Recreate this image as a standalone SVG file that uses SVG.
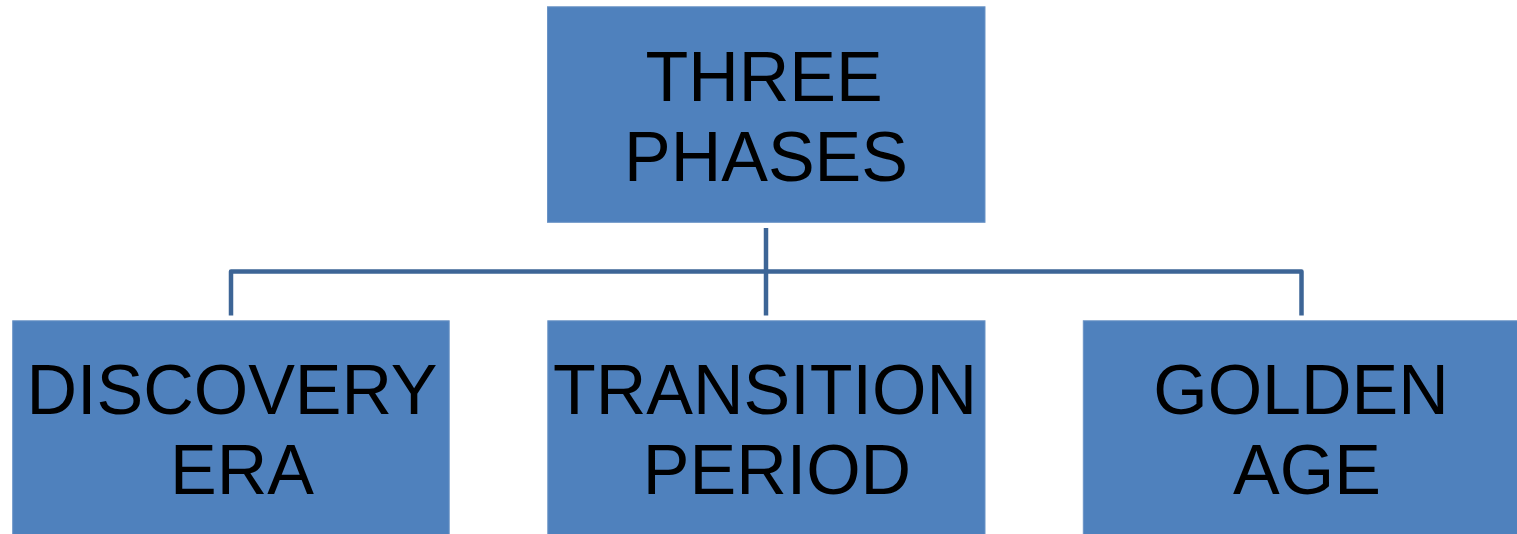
<svg xmlns="http://www.w3.org/2000/svg" width="1517" height="534" viewBox="0 0 1517 534">
<style>
.box{fill:#4F81BD;stroke:#6A93C6;stroke-width:1}
.lbl{font-family:"Liberation Sans",Arial,sans-serif;font-size:70px;fill:#000;text-anchor:middle}
.con{fill:none;stroke:#3D6596;stroke-width:4.5;stroke-linejoin:round}
</style>
<rect width="1517" height="534" fill="#fff"/>
<g id="connectors">
<path class="con" d="M766,228 V315.5"/>
<path class="con" d="M231,315.5 V271.5 H1301.5 V315.5"/>
</g>
<g id="node-three-phases">
<rect class="box" x="547.5" y="6.8" width="437.5" height="215.5"/>
<text class="lbl" x="764" y="100.5">THREE</text>
<text class="lbl" x="766" y="180.5">PHASES</text>
</g>
<g id="node-discovery-era">
<rect class="box" x="12.7" y="320.8" width="436.5" height="215"/>
<text class="lbl" x="232" y="414">DISCOVERY</text>
<text class="lbl" x="242" y="494">ERA</text>
</g>
<g id="node-transition-period">
<rect class="box" x="547.8" y="320.8" width="437.2" height="215"/>
<text class="lbl" x="765" y="414">TRANSITION</text>
<text class="lbl" x="777" y="494">PERIOD</text>
</g>
<g id="node-golden-age">
<rect class="box" x="1083.3" y="320.8" width="436" height="215"/>
<text class="lbl" x="1301" y="414">GOLDEN</text>
<text class="lbl" x="1307" y="494">AGE</text>
</g>
</svg>
